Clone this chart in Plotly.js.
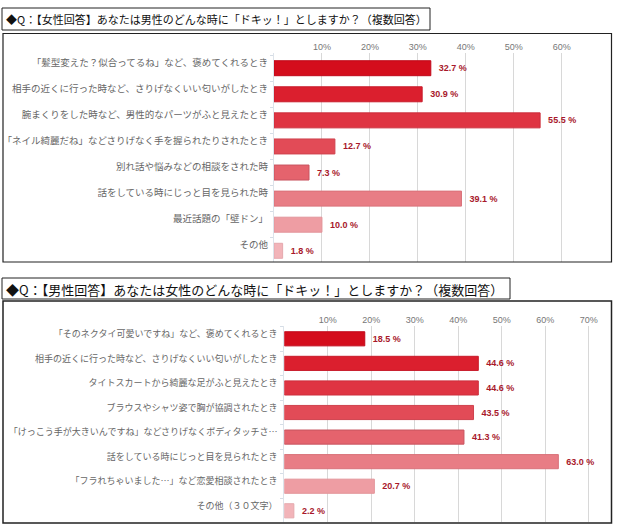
<!DOCTYPE html>
<html>
<head>
<meta charset="utf-8">
<script src="https://cdn.plot.ly/plotly-3.0.1.min.js"></script>
<style>html,body{margin:0;padding:0;background:#fff;}#chart{width:620px;height:531px;}</style>
</head>
<body>
<div id="chart"></div>
<script>
// ---- data ----
const titleFemale = "◆Q：【女性回答】あなたは男性のどんな時に「ドキッ！」としますか？（複数回答）";
const titleMale = "◆Q：【男性回答】あなたは女性のどんな時に「ドキッ！」としますか？（複数回答）";

const femaleCategories = [
  "「髪型変えた？似合ってるね」など、褒めてくれるとき",
  "相手の近くに行った時など、さりげなくいい匂いがしたとき",
  "腕まくりをした時など、男性的なパーツがふと見えたとき",
  "「ネイル綺麗だね」などさりげなく手を握られたりされたとき",
  "別れ話や悩みなどの相談をされた時",
  "話をしている時にじっと目を見られた時",
  "最近話題の「壁ドン」",
  "その他"
];
const femaleValues = [32.7, 30.9, 55.5, 12.7, 7.3, 39.1, 10.0, 1.8];

const maleCategories = [
  "「そのネクタイ可愛いですね」など、褒めてくれるとき",
  "相手の近くに行った時など、さりげなくいい匂いがしたとき",
  "タイトスカートから綺麗な足がふと見えたとき",
  "ブラウスやシャツ姿で胸が協調されたとき",
  "「けっこう手が大きいんですね」などさりげなくボディタッチさ…",
  "話をしている時にじっと目を見られたとき",
  "「フラれちゃいました…」など恋愛相談されたとき",
  "その他（３０文字）"
];
const maleValues = [18.5, 44.6, 44.6, 43.5, 41.3, 63.0, 20.7, 2.2];

const femaleTicks = [10, 20, 30, 40, 50, 60];
const maleTicks = [10, 20, 30, 40, 50, 60, 70];

const barColors = ['#d40d1c','#db1f2e','#df3442','#e24b57','#e5636d','#e87d85','#ee9da3','#f2b4b9'];
const barLines  = ['#c0091a','#c81b2a','#cc2e3c','#cf424e','#c85560','#d9727a','#e3949a','#e5a8ad'];

// ---- helpers ----
const W = 620, H = 531;
const px = v => v / W;
const py = v => 1 - v / H;
const jp = '"Noto Sans CJK JP", "Noto Sans", sans-serif';

function barTrace(cats, vals, xa, ya) {
  return {
    type: 'bar', orientation: 'h',
    y: cats, x: vals,
    xaxis: xa, yaxis: ya,
    marker: {color: barColors, line: {color: barLines, width: 1}},
    text: vals.map(v => '\u00a0\u00a0' + v.toFixed(1) + ' %'),
    textposition: 'outside',
    cliponaxis: false,
    textfont: {family: 'Arial, "Liberation Sans", sans-serif', size: 9, color: '#a8182b', weight: 'bold'},
    hoverinfo: 'none', showlegend: false
  };
}

const data = [
  barTrace(femaleCategories, femaleValues, 'x', 'y'),
  barTrace(maleCategories, maleValues, 'x2', 'y2')
];

const xCommon = {
  side: 'top', showgrid: true, gridcolor: '#d8d8d8', gridwidth: 1,
  zeroline: false, showline: false, ticks: '',
  tickfont: {family: 'Arial, "Liberation Sans", sans-serif', size: 9, color: '#777'},
  fixedrange: true
};
const yCommon = {
  type: 'category', showgrid: false, zeroline: false,
  showline: true, linecolor: '#dde3ea', linewidth: 1,
  ticks: 'outside', tickson: 'boundaries', ticklen: 3, tickcolor: '#d5dde6',
  ticklabelstandoff: 3,
  tickfont: {family: jp, size: 9.5, color: '#666'},
  fixedrange: true
};

const layout = {
  width: W, height: H, autosize: false,
  margin: {l: 0, r: 0, t: 0, b: 0},
  paper_bgcolor: '#fff', plot_bgcolor: 'rgba(0,0,0,0)',
  bargap: 0.425,
  xaxis: Object.assign({}, xCommon, {
    domain: [px(274), px(605)], range: [0, (605 - 274) / 4.795],
    tickvals: femaleTicks, ticktext: femaleTicks.map(t => t + '%'), anchor: 'y'
  }),
  yaxis: Object.assign({}, yCommon, {
    domain: [py(262), py(53)], range: [7.43, -0.583], anchor: 'x', ticklabelshift: 6
  }),
  xaxis2: Object.assign({}, xCommon, {
    domain: [px(284.3), px(605)], range: [0, (605 - 284.3) / 4.35],
    tickvals: maleTicks, ticktext: maleTicks.map(t => t + '%'), anchor: 'y2'
  }),
  yaxis2: Object.assign({}, yCommon, {
    domain: [py(522), py(326)], range: [7.456, -0.521], anchor: 'x2', ticklabelshift: 5,
    ticklabelstandoff: 4,
    tickfont: {family: jp, size: 9, color: '#666'}
  }),
  shapes: [
    {type: 'rect', xref: 'paper', yref: 'paper', x0: px(2), x1: px(430), y0: py(30), y1: py(8), line: {color: '#222', width: 1}},
    {type: 'rect', xref: 'paper', yref: 'paper', x0: px(3), x1: px(611.5), y0: py(262), y1: py(33.5), line: {color: '#222', width: 1.2}},
    {type: 'rect', xref: 'paper', yref: 'paper', x0: px(2), x1: px(510), y0: py(299), y1: py(278), line: {color: '#222', width: 1}},
    {type: 'rect', xref: 'paper', yref: 'paper', x0: px(3), x1: px(611.5), y0: py(523), y1: py(301), line: {color: '#222', width: 1.5}}
  ],
  annotations: [
    {xref: 'paper', yref: 'paper', x: px(4), y: py(19), xanchor: 'left', yanchor: 'middle', showarrow: false,
     text: titleFemale, font: {family: jp, size: 11, color: '#111'}},
    {xref: 'paper', yref: 'paper', x: px(4), y: py(289), xanchor: 'left', yanchor: 'middle', showarrow: false,
     text: titleMale, font: {family: jp, size: 13, color: '#111'}}
  ]
};

Plotly.newPlot('chart', data, layout, {staticPlot: true, displayModeBar: false});
</script>
</body>
</html>
